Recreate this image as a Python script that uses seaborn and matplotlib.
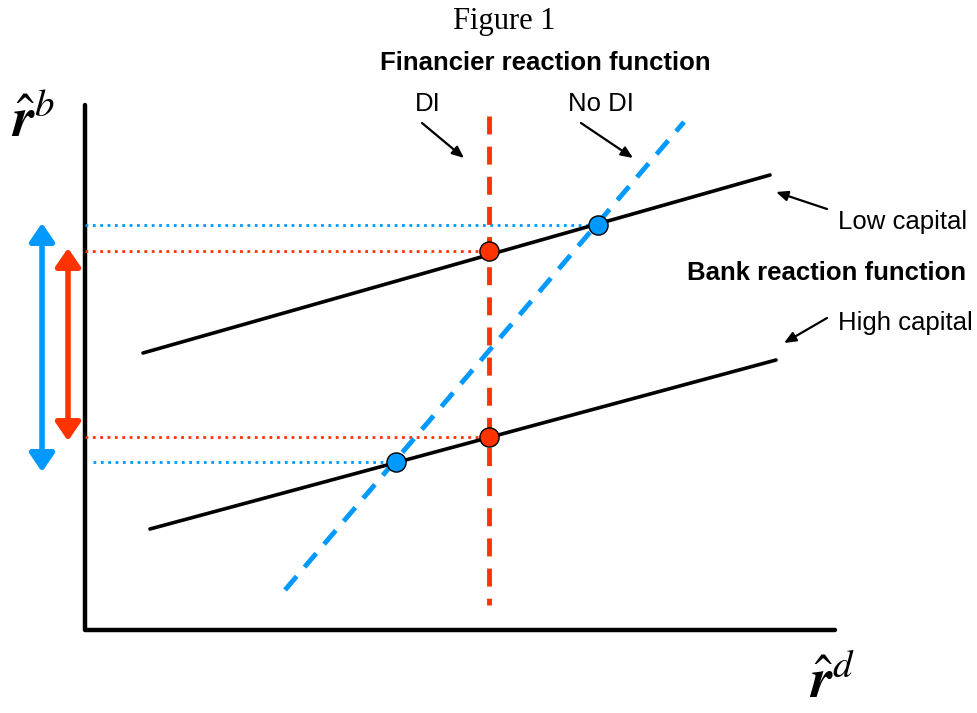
import matplotlib
matplotlib.use("Agg")
import matplotlib.pyplot as plt
import seaborn as sns

# diagram lines, in picture units (x to the right, y downward)
low_capital_x = [143, 770]
low_capital_y = [353, 175]
high_capital_x = [150, 776]
high_capital_y = [529, 360]
di_x = [489, 489]
di_y = [116, 605]
nodi_x = [285, 684]
nodi_y = [590, 122]
axis_x = [85, 85, 835]
axis_y = [105, 630, 630]

# equilibrium points (DI in red, No DI in blue)
red_pts_x = [489, 489]
red_pts_y = [251, 437]
blue_pts_x = [598, 396]
blue_pts_y = [225, 462]

RED = "#FF3300"
BLUE = "#0099FF"

sns.set_style("white")
plt.rcParams["mathtext.fontset"] = "stix"
plt.rcParams["text.color"] = "black"
fig = plt.figure(figsize=(9.78, 7.13), dpi=100)
ax = fig.add_axes([0, 0, 1, 1])
ax.set_xlim(0, 978)
ax.set_ylim(713, 0)
ax.axis("off")

kw = dict(estimator=None, sort=False, ax=ax, legend=False)

# axes of the diagram
sns.lineplot(x=axis_x, y=axis_y, color="black", lw=3.2, **kw)

# dotted guides to the vertical axis
sns.lineplot(x=[axis_x[0], blue_pts_x[0]], y=[blue_pts_y[0]] * 2, color=BLUE, lw=2, ls=":", **kw)
sns.lineplot(x=[axis_x[0], red_pts_x[0]], y=[red_pts_y[0]] * 2, color=RED, lw=2, ls=":", **kw)
sns.lineplot(x=[axis_x[0], red_pts_x[1]], y=[red_pts_y[1]] * 2, color=RED, lw=2, ls=":", **kw)
sns.lineplot(x=[93, blue_pts_x[1]], y=[blue_pts_y[1]] * 2, color=BLUE, lw=2, ls=":", **kw)

# bank reaction functions
sns.lineplot(x=low_capital_x, y=low_capital_y, color="black", lw=2.6, **kw)
sns.lineplot(x=high_capital_x, y=high_capital_y, color="black", lw=2.6, **kw)

# financier reaction functions
l1 = sns.lineplot(x=di_x, y=di_y, color=RED, lw=3.5, **kw)
l1.lines[-1].set_dashes((3.7, 2.5))
l2 = sns.lineplot(x=nodi_x, y=nodi_y, color=BLUE, lw=3.5, **kw)
l2.lines[-1].set_dashes((3.7, 2.5))

# equilibria
sns.scatterplot(x=red_pts_x, y=red_pts_y, color=RED, s=190, edgecolor="black", linewidth=1, ax=ax, zorder=5)
sns.scatterplot(x=blue_pts_x, y=blue_pts_y, color=BLUE, s=190, edgecolor="black", linewidth=1, ax=ax, zorder=5)

# double arrows showing spread range
dbl = "<|-|>,head_length=1.1,head_width=0.75"
ax.annotate("", xy=(42, blue_pts_y[0] - 2), xytext=(42, blue_pts_y[1] + 10),
            arrowprops=dict(arrowstyle=dbl, color=BLUE, lw=4, shrinkA=0, shrinkB=0))
ax.annotate("", xy=(68, red_pts_y[0] - 3), xytext=(68, red_pts_y[1] + 4),
            arrowprops=dict(arrowstyle=dbl, color=RED, lw=4, shrinkA=0, shrinkB=0))

# labels with pointer arrows
arr = dict(arrowstyle="-|>,head_length=0.7,head_width=0.3", color="black", lw=1.6, shrinkA=0, shrinkB=0)
sans = ["Liberation Sans", "DejaVu Sans"]
ax.text(428, 104, "DI", ha="center", va="center", fontsize=18.5, family=sans)
ax.annotate("", xy=(464, 158), xytext=(422, 123), arrowprops=arr)
ax.text(601, 104, "No DI", ha="center", va="center", fontsize=18.5, family=sans)
ax.annotate("", xy=(633, 158), xytext=(581, 123), arrowprops=arr)
ax.text(838, 222, "Low capital", ha="left", va="center", fontsize=18.5, family=sans)
ax.annotate("", xy=(776, 192), xytext=(827, 209), arrowprops=arr)
ax.text(838, 323, "High capital", ha="left", va="center", fontsize=18.5, family=sans)
ax.annotate("", xy=(784, 343), xytext=(827, 318), arrowprops=arr)
ax.text(966, 273, "Bank reaction function", ha="right", va="center", fontsize=18.5,
        fontweight="bold", family=sans)
ax.text(545, 63, "Financier reaction function", ha="center", va="center", fontsize=18.5,
        fontweight="bold", family=sans)
ax.text(504, 22, "Figure 1", ha="center", va="center", fontsize=22,
        family=["Liberation Serif", "DejaVu Serif"])

# axis symbols
ax.text(33, 122, r"$\hat{\mathbfit{r}}^{b}$", ha="center", va="center", fontsize=40)
ax.text(832, 683, r"$\hat{\mathbfit{r}}^{d}$", ha="center", va="center", fontsize=40)

fig.savefig("out.png", dpi=100)
